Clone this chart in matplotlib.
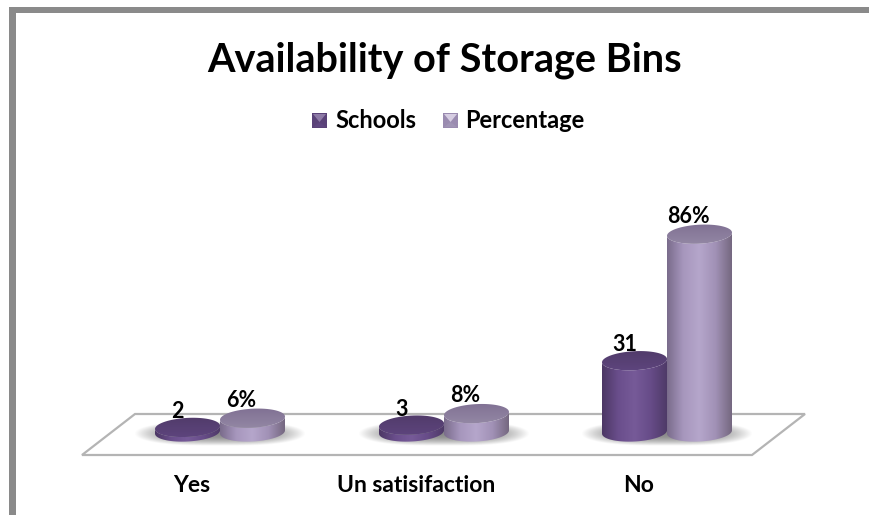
import numpy as np
import matplotlib
matplotlib.use('Agg')
import matplotlib.pyplot as plt
from matplotlib.patches import Polygon, PathPatch, Rectangle
from matplotlib.path import Path

categories = ['Yes', 'Un satisifaction', 'No']
schools = [2, 3, 31]
percentage = [6, 8, 86]
percent_labels = ['6%', '8%', '86%']
school_labels = ['2', '3', '31']

plt.rcParams['font.family'] = ['Lato', 'DejaVu Sans']

# everything is laid out in pixels of the 870x515 picture
fig = plt.figure(figsize=(8.7, 5.15), dpi=100)
ax = fig.add_axes([0, 0, 1, 1])
ax.set_xlim(0, 870)
ax.set_ylim(515, 0)
ax.axis('off')

group_x = [220, 444, 667]
base_y = 432
px_per_unit = 2.3
half_w = 32.5
half_h = 9.5
tilt = 0.05

dark_side = ['#4c3764', '#6a4e8c', '#765a98', '#674c88', '#4f3a68']
dark_top = ['#503a68', '#5f4680']
light_side = ['#7a6c8c', '#a797bd', '#b5a6cb', '#a191b6', '#756880']
light_top = ['#7f6f92', '#958aa6']


def hex_rgb(c):
    return np.array(matplotlib.colors.to_rgb(c))


def ramp(colors, n):
    stops = np.linspace(0, 1, len(colors))
    arr = np.array([hex_rgb(c) for c in colors])
    t = np.linspace(0, 1, n)
    return np.stack([np.interp(t, stops, arr[:, k]) for k in range(3)], axis=1)


def ellipse_pts(cx, cy, t):
    return np.column_stack([cx + half_w * np.cos(t),
                            cy + half_h * np.sin(t) - tilt * half_w * np.cos(t)])


def clipped_image(img, extent, path, z):
    patch = PathPatch(path, facecolor='none', edgecolor='none', transform=ax.transData)
    ax.add_patch(patch)
    im = ax.imshow(img, extent=extent, aspect='auto', zorder=z, interpolation='bilinear')
    im.set_clip_path(patch)


def cylinder(cx, value, side, top, z):
    top_y = base_y - value * px_per_unit
    # body: down the left edge, round the base, back up the right edge
    low = ellipse_pts(cx, base_y, np.linspace(np.pi, 0, 40))
    up = ellipse_pts(cx, top_y, np.linspace(0, np.pi, 40))
    pts = np.vstack([low, up])
    body = Path(np.vstack([pts, pts[0]]), closed=True)
    img = ramp(side, 128)[np.newaxis, :, :]
    clipped_image(img, (cx - half_w, cx + half_w, base_y + half_h + 4, top_y - half_h - 4), body, z)
    # lid
    ring = ellipse_pts(cx, top_y, np.linspace(0, 2 * np.pi, 80))
    lid = Path(np.vstack([ring, ring[0]]), closed=True)
    img = ramp(top, 64)[:, np.newaxis, :]
    clipped_image(img, (cx - half_w, cx + half_w, top_y + half_h + 3, top_y - half_h - 3), lid, z + 0.1)


def shadow(cx):
    xx, yy = np.meshgrid(np.linspace(-1, 1, 200), np.linspace(-1, 1, 60))
    r = np.clip(1 - (np.abs(xx) ** 3 + np.abs(yy) ** 2), 0, 1)
    img = np.zeros((60, 200, 4))
    img[..., :3] = 0.42
    img[..., 3] = 0.8 * r ** 1.1
    ax.imshow(img, extent=(cx - 86, cx + 86, base_y + 14, base_y - 11), aspect='auto', zorder=2)


# grey frame, only top and left are inside the crop
ax.add_patch(Rectangle((9, 7), 861, 6, facecolor='#8a8a8a', edgecolor='none', zorder=1))
ax.add_patch(Rectangle((9, 7), 7, 508, facecolor='#8a8a8a', edgecolor='none', zorder=1))

# floor
ax.add_patch(Polygon([(135, 414), (805, 414), (752, 455), (82, 455)], closed=True,
                     facecolor='white', edgecolor='#b4b4b4', linewidth=1.6, zorder=1.5))

for i, cx in enumerate(group_x):
    shadow(cx)
    cylinder(cx - half_w, schools[i], dark_side, dark_top, 3)
    cylinder(cx + half_w, percentage[i], light_side, light_top, 4)
    ax.text(cx - half_w - 10, base_y - schools[i] * px_per_unit - 16,
            school_labels[i], ha='center', va='center', fontsize=15.5, fontweight='bold',
            color='black', zorder=6)
    ax.text(cx + half_w - 11, base_y - percentage[i] * px_per_unit - 18,
            percent_labels[i], ha='center', va='center', fontsize=15.5, fontweight='bold',
            color='black', zorder=6)
    ax.text(cx - 28, 486, categories[i], ha='center', va='center', fontsize=16.5,
            fontweight='bold', color='black')

ax.text(445, 60, 'Availability of Storage Bins', ha='center', va='center',
        fontsize=28.5, fontweight='bold', color='black')


def legend_key(x, y, edge, fill, tip):
    s = 15
    ax.add_patch(Rectangle((x, y), s, s, facecolor=edge, edgecolor='none', zorder=5))
    ax.add_patch(Polygon([(x + 1, y + 1), (x + s - 1, y + 1), (x + s / 2, y + s * 0.6)],
                         closed=True, facecolor=tip, edgecolor='none', zorder=6))
    ax.add_patch(Polygon([(x + 1, y + s - 1), (x + s - 1, y + s - 1), (x + s / 2, y + s * 0.6)],
                         closed=True, facecolor=fill, edgecolor='none', zorder=6))


legend_key(312, 113, '#5a4278', '#5f4680', '#8d7aa6')
ax.text(335, 121, 'Schools', ha='left', va='center', fontsize=17, fontweight='bold', color='black')
legend_key(443, 113, '#9a8bb0', '#a094b5', '#d6cde2')
ax.text(465, 121, 'Percentage', ha='left', va='center', fontsize=17, fontweight='bold', color='black')

ax.set_xlim(0, 870)
ax.set_ylim(515, 0)
fig.savefig('out.png', dpi=100, facecolor='white')
